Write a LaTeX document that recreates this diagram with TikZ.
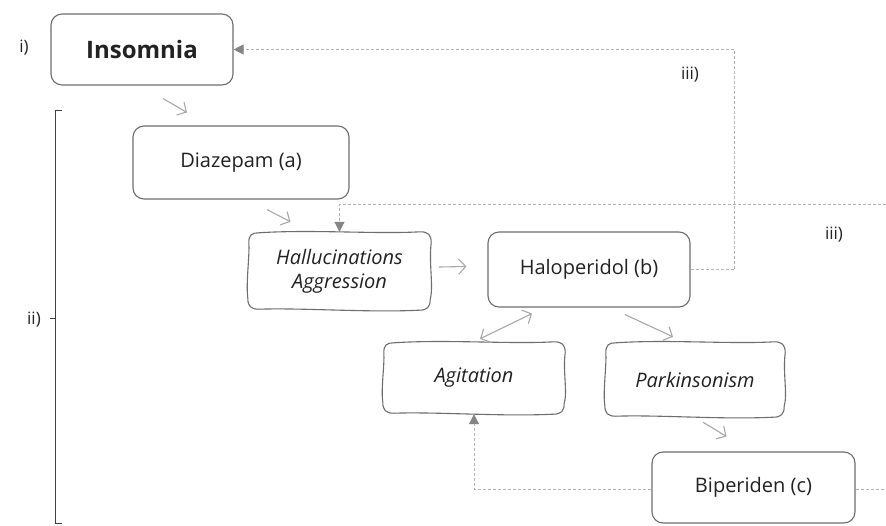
\documentclass[tikz,border=0pt]{standalone}
\usepackage{fontspec}
\setmainfont{Open Sans}
\usetikzlibrary{arrows.meta,calc}
\definecolor{boxc}{HTML}{6E6E6E}
\definecolor{arrc}{HTML}{A8A8A8}
\definecolor{dashc}{HTML}{B4B4B4}
\definecolor{tipc}{HTML}{858585}
\definecolor{txtc}{HTML}{222222}
\tikzset{
  box/.style={draw=boxc, line width=1.1pt, rounded corners=11pt, fill=white, text=txtc,
    font=\fontsize{20}{24}\selectfont, align=center, inner sep=0pt},
  wavy/.style={text=txtc, align=center, inner sep=0pt,
    font=\fontsize{20}{24}\selectfont\itshape},
  handline/.style={draw=boxc, line width=1.1pt},
  arr/.style={draw=arrc, line width=1.1pt, -{Straight Barb[length=7pt,width=15pt,line width=1.1pt]}},
  darr/.style={draw=arrc, line width=1.1pt, {Straight Barb[length=7pt,width=15pt,line width=1.1pt]}-{Straight Barb[length=7pt,width=15pt,line width=1.1pt]}},
  dline/.style={draw=dashc, line width=1pt, dash pattern=on 3pt off 2pt},
  tip/.style={-{Triangle[length=10pt,width=10pt,fill=tipc,color=tipc]}},
  lab/.style={text=txtc, font=\fontsize{17}{20}\selectfont, inner sep=0pt},
  brk/.style={draw=black!75, line width=1pt}
}
% hand-drawn rounded box around a named node
\newcommand{\handbox}[1]{%
  \draw[handline]
    ($(#1.north west)+(11,1)$)
      .. controls ($(#1.north west)!0.35!(#1.north east)+(0,-2.5)$) and ($(#1.north west)!0.7!(#1.north east)+(0,2.5)$) .. ($(#1.north east)+(-11,0)$)
      .. controls ($(#1.north east)+(-3,0)$) and ($(#1.north east)+(0,3)$) .. ($(#1.north east)+(0,11)$)
      .. controls ($(#1.north east)!0.4!(#1.south east)+(-2.5,0)$) and ($(#1.north east)!0.7!(#1.south east)+(2.5,0)$) .. ($(#1.south east)+(-1,-11)$)
      .. controls ($(#1.south east)+(-1,-3)$) and ($(#1.south east)+(-4,0)$) .. ($(#1.south east)+(-12,0)$)
      .. controls ($(#1.south east)!0.35!(#1.south west)+(0,2.5)$) and ($(#1.south east)!0.7!(#1.south west)+(0,-2.5)$) .. ($(#1.south west)+(11,-1)$)
      .. controls ($(#1.south west)+(3,-1)$) and ($(#1.south west)+(0,-4)$) .. ($(#1.south west)+(0,-12)$)
      .. controls ($(#1.south west)!0.35!(#1.north west)+(-2,0)$) and ($(#1.south west)!0.7!(#1.north west)+(2,0)$) .. ($(#1.north west)+(1,11)$)
      .. controls ($(#1.north west)+(1,3)$) and ($(#1.north west)+(4,1)$) .. cycle;%
}
\begin{document}
\begin{tikzpicture}[x=1pt,y=-1pt]
\useasboundingbox[fill=white] (0,0) rectangle (886,525);
% nodes
\node[box, minimum width=182pt, minimum height=71pt, font=\fontsize{24}{28}\selectfont\bfseries] (ins) at (142,49.5) {Insomnia};
\node[box, minimum width=216pt, minimum height=73pt] (dia) at (241,162.5) {Diazepam (a)};
\node[wavy, minimum width=183pt, minimum height=78pt] (hal) at (339.5,271) {Hallucinations\\Aggression};
\node[box, minimum width=202pt, minimum height=75pt] (halo) at (589,269.5) {Haloperidol (b)};
\node[wavy, minimum width=182pt, minimum height=72pt] (agi) at (474,378) {Agitation};
\node[wavy, minimum width=180pt, minimum height=75pt] (par) at (695,379.5) {Parkinsonism};
\node[box, minimum width=203pt, minimum height=71pt] (bip) at (753.5,487.5) {Biperiden (c)};
\handbox{hal}
\handbox{agi}
\handbox{par}
% labels
\node[lab] (li) at (24,48) {i)};
\node[lab] (lii) at (34,320) {ii)};
\node[lab] (liii1) at (690,75) {iii)};
\node[lab] (liii2) at (834,235) {iii)};
% bracket
\coordinate (bt) at (55,110);
\coordinate (bb) at (55,523);
\draw[brk] ($(bt)+(7,0)$) -- (bt) -- (bb) -- ($(bb)+(7,0)$);
\draw[brk] (50,318) -- (55,318);
% solid arrows
\draw[arr] ($(ins.south)+(21,13)$) -- ($(dia.north)+(-54,-13)$);
\draw[arr] ($(dia.south)+(26,10)$) -- ($(hal.north)+(-49,-10)$);
\draw[arr] ($(hal.east)+(8,-4)$) -- ($(halo.west)+(-21,-3)$);
\draw[darr] ($(agi.north)+(6,-3)$) -- ($(halo.south)+(-57,6)$);
\draw[arr] ($(halo.south)+(36,7)$) -- ($(par.north)+(-22,-5)$);
\draw[arr] ($(par.south)+(8,5)$) -- ($(bip.north)+(-27,-15)$);
% dashed connectors
\coordinate (r1) at (886,204);
\coordinate (r2) at (886,489);
\draw[dline, tip] (halo.east) -- ++(44,0) |- (ins.east);
\draw[dline, tip] (r1) -| (hal.north);
\draw[dline, tip] (bip.west |- 0,489) -| (agi.south);
\draw[dline] (bip.east |- 0,489) -- (r2);
\end{tikzpicture}
\end{document}
